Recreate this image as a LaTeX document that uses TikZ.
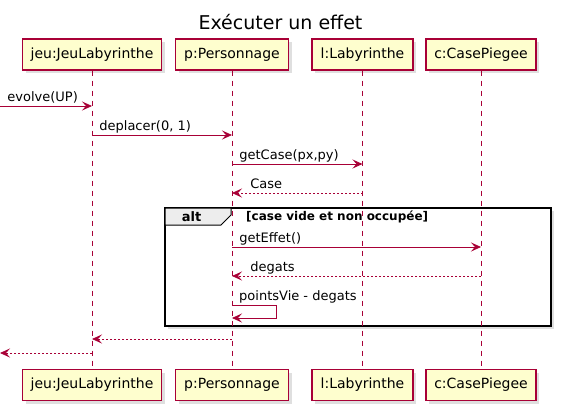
\documentclass[tikz,border=0pt]{standalone}
\usepackage{fontspec}
\setmainfont{DejaVu Sans}
\usepackage{tikz}
\usetikzlibrary{arrows.meta,positioning,calc,shadows}
\definecolor{umlred}{HTML}{A80036}
\definecolor{umlbox}{HTML}{FEFECE}

\begin{document}
\begin{tikzpicture}[x=1pt,y=-1pt,>={Stealth[length=10pt,width=9pt,inset=4pt]},
  actor/.style={draw=umlred,fill=umlbox,line width=1.4pt,minimum height=31pt,inner sep=0pt,
    font=\fontsize{14}{16}\selectfont,drop shadow={shadow xshift=3pt,shadow yshift=-3pt,fill=black!25}},
  life/.style={umlred,line width=0.8pt,dash pattern=on 5pt off 5pt},
  msg/.style={->,umlred,line width=0.8pt},
  ret/.style={->,umlred,line width=0.8pt,dash pattern=on 2pt off 2pt},
  lbl/.style={anchor=base west,inner sep=0pt,xshift=7pt,yshift=5pt,text=black,font=\fontsize{13}{15}\selectfont}]
  \useasboundingbox (0,0) rectangle (563,413);
  \node[anchor=base,font=\fontsize{19}{22}\selectfont] (title) at (280.5,29) {Exécuter un effet};
  % participants
  \node[actor,minimum width=139pt] (jt) at (92,54.5) {jeu:JeuLabyrinthe};
  \node[actor,minimum width=113pt] (pt) at (232,54.5) {p:Personnage};
  \node[actor,minimum width=101pt] (lt) at (362.5,54.5) {l:Labyrinthe};
  \node[actor,minimum width=110pt] (ct) at (481,54.5) {c:CasePiegee};
  \node[actor,minimum width=139pt] (jb) at (92,385) {jeu:JeuLabyrinthe};
  \node[actor,minimum width=113pt] (pb) at (232,385) {p:Personnage};
  \node[actor,minimum width=101pt] (lb) at (362.5,385) {l:Labyrinthe};
  \node[actor,minimum width=110pt] (cb) at (481,385) {c:CasePiegee};
  % alt frame
  \draw[line width=1.5pt,fill=white,drop shadow={shadow xshift=3pt,shadow yshift=-3pt,fill=black!25}]
    (165,208) rectangle (551,326);
  \draw[line width=1pt,fill=black!7] (165,208) -- (231,208) -- (231,215) -- (221,225) -- (165,225) -- cycle;
  \node[font=\bfseries\fontsize{13}{15}\selectfont,anchor=base] (alt) at (191.5,221) {alt};
  \node[font=\bfseries\fontsize{12}{14}\selectfont,anchor=base west,inner sep=0pt] (cond) at (246,220)
    {[case vide et non occupée]};
  % lifelines
  \draw[life] (jt) -- (jb);
  \draw[life] (pt) -- (pb);
  \draw[life] (lt) -- (lb);
  \draw[life] (ct) -- (cb);
  % messages
  \coordinate (in) at (0,106);
  \coordinate (out) at (0,353);
  \draw[msg] (in) -- (jt |- in) node[lbl,pos=0] {evolve(UP)};
  \draw[msg] (jt |- 0,135) -- (pt |- 0,135) node[lbl,pos=0] {deplacer(0, 1)};
  \draw[msg] (pt |- 0,164) -- (lt |- 0,164) node[lbl,pos=0] {getCase(px,py)};
  \draw[ret] (lt |- 0,193) -- (pt |- 0,193) node[lbl,pos=1,xshift=11pt] {Case};
  \draw[msg] (pt |- 0,247) -- (ct |- 0,247) node[lbl,pos=0] {getEffet()};
  \draw[ret] (ct |- 0,276) -- (pt |- 0,276) node[lbl,pos=1,xshift=11pt] {degats};
  \draw[msg] (pt |- 0,305) -- ++(44,0) -- ++(0,13) -- (pt |- 0,318);
  \node[lbl] (selfl) at (pt |- 0,305) {pointsVie - degats};
  \draw[ret] (pt |- 0,339) -- (jt |- 0,339);
  \draw[ret] (jt |- out) -- (out);
\end{tikzpicture}
\end{document}
